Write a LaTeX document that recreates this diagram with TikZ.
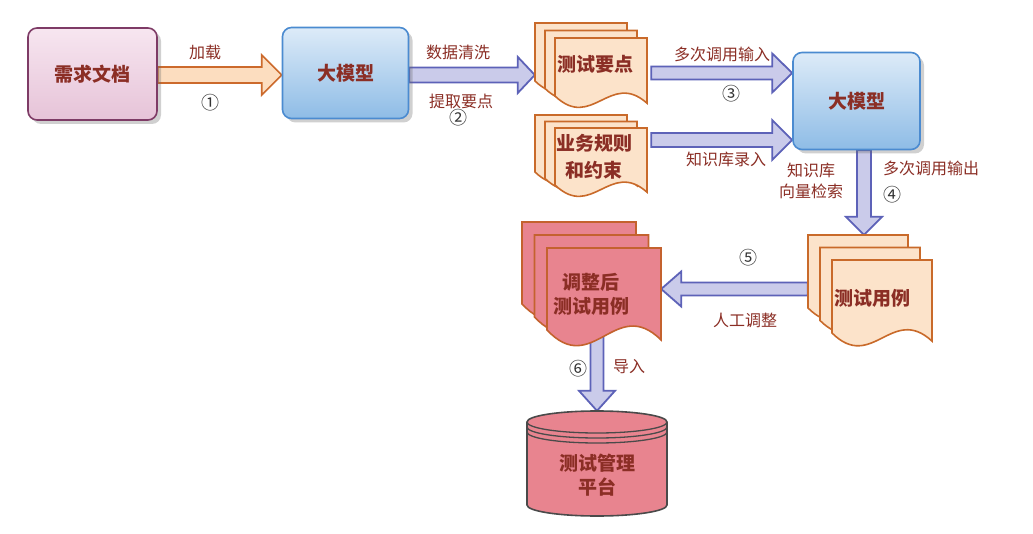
\documentclass[tikz,border=0pt]{standalone}
\usepackage{fontspec}
\setmainfont{Noto Sans CJK SC}
\usetikzlibrary{shadows,calc}
\pgfdeclarelayer{back}
\pgfdeclarelayer{bg}
\pgfsetlayers{back,bg,main}
\definecolor{txt}{HTML}{8B2E25}
\definecolor{reqtop}{HTML}{F7E6F0}
\definecolor{reqbot}{HTML}{E6C3D8}
\definecolor{reqline}{HTML}{7E3B66}
\definecolor{llmtop}{HTML}{DDEBF8}
\definecolor{llmbot}{HTML}{8EBCE6}
\definecolor{llmline}{HTML}{4B8BD0}
\definecolor{oarrfill}{HTML}{FCDDBF}
\definecolor{oarrline}{HTML}{CC6A2C}
\definecolor{barrfill}{HTML}{CACBEA}
\definecolor{barrline}{HTML}{5D62B8}
\definecolor{pfill}{HTML}{FCE3CA}
\definecolor{pline}{HTML}{C96A2A}
\definecolor{rfill}{HTML}{E8848F}
\definecolor{rline}{HTML}{C4622E}
\definecolor{cylline}{HTML}{4A4A4A}
\tikzset{
  x=1pt, y=-1pt,
  every node/.style={text=txt},
  box/.style={rounded corners=9pt, line width=1.6pt,
    font=\bfseries\fontsize{19}{22}\selectfont,
    drop shadow={shadow xshift=4pt, shadow yshift=-4pt, opacity=0.3, fill=black!60}},
  reqbox/.style={box, draw=reqline, top color=reqtop, bottom color=reqbot},
  llmbox/.style={box, draw=llmline, top color=llmtop, bottom color=llmbot},
  lab/.style={font=\fontsize{16}{18}\selectfont},
  num/.style={font=\fontsize{18}{20}\selectfont, text=black!80},
  orangearr/.style={draw=oarrline, fill=oarrfill, line width=1.6pt},
  bluearr/.style={draw=barrline, fill=barrfill, line width=1.8pt},
  peachpage/.style={draw=pline, fill=pfill, line width=1.6pt},
  redpage/.style={draw=rline, fill=rfill, line width=1.6pt},
  doctext/.style={font=\bfseries\fontsize{19}{24}\selectfont, align=center},
  cyl/.style={draw=cylline, fill=rfill, line width=1.6pt},
  cylband/.style={draw=cylline, line width=1.3pt},
}
% one document page: style, a, b, w, h0, d
\newcommand\docpage[6]{%
  \draw[#1] (#2,#3) -- ({#2+#4},#3) -- ({#2+#4},{#3+#5+0.45*#6})
    .. controls ({#2+0.6*#4},{#3+#5-1.6*#6}) and ({#2+0.4*#4},{#3+#5+2.2*#6}) ..
    (#2,{#3+#5}) -- cycle;}
% stack of three pages: style, name, a, b, w, h0, dx, dy, d
\newcommand\docstack[9]{%
  \docpage{#1}{#3}{#4}{#5}{#6}{#9}%
  \docpage{#1}{#3+#7}{#4+#8}{#5}{#6}{#9}%
  \docpage{#1}{#3+2*#7}{#4+2*#8}{#5}{#6}{#9}%
  \node[inner sep=0pt, minimum width={(#5+2*#7)*1pt}, minimum height={(#6+2*#8)*1pt}]
    (#2) at ({#3+(#5+2*#7)/2},{#4+(#6+2*#8)/2}) {};}
% right block arrow: style, from, to, y, shaft half, head half, head length
\newcommand\rarr[7]{%
  \draw[#1] let \p1=(#2), \p2=(#3) in
    (\x1,{-#4pt+#5pt}) -- ({\x2-#7pt},{-#4pt+#5pt}) -- ({\x2-#7pt},{-#4pt+#6pt})
    -- (\x2,{-#4pt}) -- ({\x2-#7pt},{-#4pt-#6pt}) -- ({\x2-#7pt},{-#4pt-#5pt})
    -- (\x1,{-#4pt-#5pt}) -- cycle;}
% left block arrow
\newcommand\larr[7]{%
  \draw[#1] let \p1=(#2), \p2=(#3) in
    (\x1,{-#4pt+#5pt}) -- ({\x2+#7pt},{-#4pt+#5pt}) -- ({\x2+#7pt},{-#4pt+#6pt})
    -- (\x2,{-#4pt}) -- ({\x2+#7pt},{-#4pt-#6pt}) -- ({\x2+#7pt},{-#4pt-#5pt})
    -- (\x1,{-#4pt-#5pt}) -- cycle;}
% down block arrow: style, from, to, x, shaft half, head half, head length
\newcommand\darr[7]{%
  \draw[#1] let \p1=(#2), \p2=(#3) in
    ({#4pt-#5pt},\y1) -- ({#4pt-#5pt},{\y2+#7pt}) -- ({#4pt-#6pt},{\y2+#7pt})
    -- (#4pt,\y2) -- ({#4pt+#6pt},{\y2+#7pt}) -- ({#4pt+#5pt},{\y2+#7pt})
    -- ({#4pt+#5pt},\y1) -- cycle;}
\begin{document}
\begin{tikzpicture}
\begin{pgfonlayer}{back}
  \fill[white] (0,0) rectangle (1033,534);
\end{pgfonlayer}
\useasboundingbox (0,0) rectangle (1033,534);

% boxes
\node[reqbox, minimum width=129pt, minimum height=92pt] (req) at (92.5,74) {需求文档};
\node[llmbox, minimum width=126pt, minimum height=91pt] (m1) at (345.5,73) {大模型};
\node[llmbox, minimum width=127pt, minimum height=97pt] (m2) at (856.5,101) {大模型};

% document stacks
\docstack{peachpage}{tp}{535}{23}{92}{58}{10}{7.5}{16}
\node[doctext] (tpt) at (595,64) {测试要点};
\docstack{peachpage}{br}{535}{115}{92}{57}{10}{6.5}{16}
\node[doctext, font=\bfseries\fontsize{19}{27}\selectfont] (brt) at (594,157) {业务规则\\和约束};
\docstack{peachpage}{tc}{808}{235}{100}{73}{12}{12.5}{18}
\node[doctext] (tct) at (872,298) {测试用例};
\docstack{redpage}{adj}{522}{222}{114}{82}{12.5}{13}{22}
\node[doctext] (adjt) at (591,294) {调整后\\测试用例};

% cylinder
\node[inner sep=0pt, minimum width=140pt, minimum height=105pt] (db) at (597,463.5) {};
\draw[cyl] (527,422) -- (527,505) arc[start angle=180, end angle=360, x radius=70pt, y radius=11pt]
  -- (667,422) arc[start angle=0, end angle=180, x radius=70pt, y radius=11pt] -- cycle;
\draw[cylband] (527,422) arc[start angle=180, end angle=360, x radius=70pt, y radius=11pt];
\draw[cylband] (527,427) arc[start angle=180, end angle=360, x radius=70pt, y radius=11pt];
\draw[cylband] (527,432) arc[start angle=180, end angle=360, x radius=70pt, y radius=11pt];
\node[doctext] (dbt) at (597,475) {测试管理\\平台};

% block arrows
\begin{pgfonlayer}{bg}
  \rarr{orangearr}{req.east}{m1.west}{75}{8}{20}{20}
  \rarr{bluearr}{m1.east}{tp.west}{75}{7.5}{18}{17}
  \rarr{bluearr}{$(tp.east)+(4,0)$}{m2.west}{73}{6.5}{19.5}{20}
  \rarr{bluearr}{$(br.east)+(4,0)$}{m2.west}{140}{7}{20}{20}
  \darr{bluearr}{m2.south}{tc.north}{864}{7}{18}{18}
  \larr{bluearr}{tc.west}{adj.east}{289}{6.5}{17.5}{20}
  \darr{bluearr}{adj.south}{db.north}{597}{6.5}{18}{20}
\end{pgfonlayer}

% labels
\node[lab] (l1) at (205,52) {加载};
\node[num] (n1) at (210,103) {①};
\node[lab] (l2a) at (458,52) {数据清洗};
\node[lab] (l2b) at (461,101) {提取要点};
\node[num] (n2) at (458,118) {②};
\node[lab] (l3) at (722,54) {多次调用输入};
\node[num] (n3) at (731,94) {③};
\node[lab] (l4) at (726,159) {知识库录入};
\node[lab, align=center, font=\fontsize{16}{21}\selectfont] (l5) at (811,181) {知识库\\向量检索};
\node[lab] (l6) at (931,168) {多次调用输出};
\node[num] (n4) at (892,195) {④};
\node[num] (n5) at (748,258) {⑤};
\node[lab] (l7) at (745,320) {人工调整};
\node[num] (n6) at (578,369) {⑥};
\node[lab] (l8) at (629,367) {导入};
\end{tikzpicture}
\end{document}
